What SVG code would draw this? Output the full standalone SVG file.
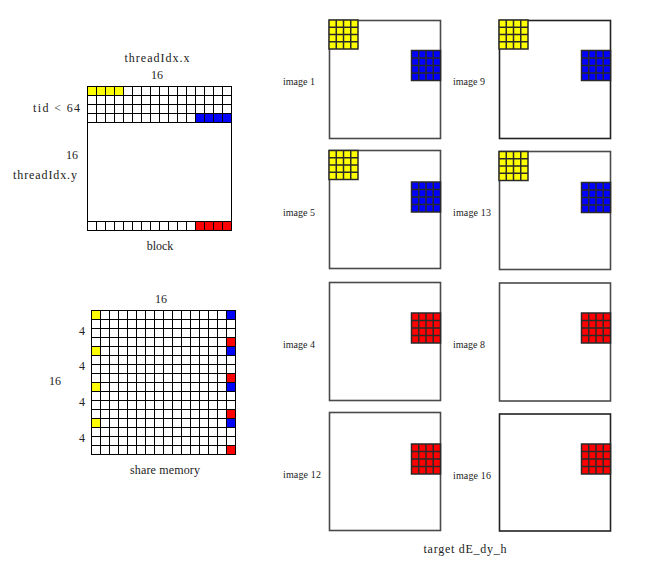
<svg xmlns="http://www.w3.org/2000/svg" xmlns:xlink="http://www.w3.org/1999/xlink" width="658" height="571" viewBox="0 0 658 571">
<style>
text{font-family:"Liberation Serif","DejaVu Serif",serif;fill:#222}
.lbl{font-size:12px}
.img{font-size:10px}
.grid{fill:none;stroke:#000;stroke-width:1}
.frame{fill:none;stroke:#4a4a4a;stroke-width:1.6}
.sg{fill:none;stroke:#2a2a2a;stroke-width:1.5}
.y{fill:#ffff00}.b{fill:#0000ff}.r{fill:#ff0000}
</style>
<defs>
<g id="sq29">
<rect x="0" y="0" width="29" height="29" stroke="#2a2a2a" stroke-width="1.5"/>
<path class="sg" d="M7.25 0V29M14.5 0V29M21.75 0V29M0 7.25H29M0 14.5H29M0 21.75H29"/>
</g>
<g id="sq30">
<rect x="0" y="0" width="29" height="30" stroke="#2a2a2a" stroke-width="1.5"/>
<path class="sg" d="M7.25 0V30M14.5 0V30M21.75 0V30M0 7.5H29M0 15H29M0 22.5H29"/>
</g>
</defs>

<g id="block">
<rect class="y" x="87.5" y="86.5" width="36" height="9"/>
<rect class="b" x="195.5" y="113.5" width="36" height="9"/>
<rect class="r" x="195.5" y="221.5" width="36" height="9"/>
<rect class="grid" x="87.5" y="86.5" width="144" height="144"/>
<path class="grid" d="M87.5 95.5H231.5M87.5 104.5H231.5M87.5 113.5H231.5M87.5 122.5H231.5M87.5 221.5H231.5
M96.5 86.5V122.5M105.5 86.5V122.5M114.5 86.5V122.5M123.5 86.5V122.5M132.5 86.5V122.5M141.5 86.5V122.5M150.5 86.5V122.5M159.5 86.5V122.5M168.5 86.5V122.5M177.5 86.5V122.5M186.5 86.5V122.5M195.5 86.5V122.5M204.5 86.5V122.5M213.5 86.5V122.5M222.5 86.5V122.5
M96.5 221.5V230.5M105.5 221.5V230.5M114.5 221.5V230.5M123.5 221.5V230.5M132.5 221.5V230.5M141.5 221.5V230.5M150.5 221.5V230.5M159.5 221.5V230.5M168.5 221.5V230.5M177.5 221.5V230.5M186.5 221.5V230.5M195.5 221.5V230.5M204.5 221.5V230.5M213.5 221.5V230.5M222.5 221.5V230.5"/>
<text class="lbl" x="157" y="62" text-anchor="middle" textLength="65">threadIdx.x</text>
<text class="lbl" x="157" y="79" text-anchor="middle">16</text>
<text class="lbl" x="33" y="112" textLength="47">tid &lt; 64</text>
<text class="lbl" x="72" y="159" text-anchor="middle">16</text>
<text class="lbl" x="13" y="179" textLength="64">threadIdx.y</text>
<text class="lbl" x="160" y="250" text-anchor="middle">block</text>
</g>

<g id="share-memory">
<rect class="y" x="91.5" y="310.5" width="9" height="9"/>
<rect class="y" x="91.5" y="346.5" width="9" height="9"/>
<rect class="y" x="91.5" y="382.5" width="9" height="9"/>
<rect class="y" x="91.5" y="418.5" width="9" height="9"/>
<rect class="b" x="226.5" y="310.5" width="9" height="9"/>
<rect class="b" x="226.5" y="346.5" width="9" height="9"/>
<rect class="b" x="226.5" y="382.5" width="9" height="9"/>
<rect class="b" x="226.5" y="418.5" width="9" height="9"/>
<rect class="r" x="226.5" y="337.5" width="9" height="9"/>
<rect class="r" x="226.5" y="373.5" width="9" height="9"/>
<rect class="r" x="226.5" y="409.5" width="9" height="9"/>
<rect class="r" x="226.5" y="445.5" width="9" height="9"/>
<rect class="grid" x="91.5" y="310.5" width="144" height="144"/>
<path class="grid" d="M100.5 310.5V454.5M109.5 310.5V454.5M118.5 310.5V454.5M127.5 310.5V454.5M136.5 310.5V454.5M145.5 310.5V454.5M154.5 310.5V454.5M163.5 310.5V454.5M172.5 310.5V454.5M181.5 310.5V454.5M190.5 310.5V454.5M199.5 310.5V454.5M208.5 310.5V454.5M217.5 310.5V454.5M226.5 310.5V454.5
M91.5 319.5H235.5M91.5 328.5H235.5M91.5 337.5H235.5M91.5 346.5H235.5M91.5 355.5H235.5M91.5 364.5H235.5M91.5 373.5H235.5M91.5 382.5H235.5M91.5 391.5H235.5M91.5 400.5H235.5M91.5 409.5H235.5M91.5 418.5H235.5M91.5 427.5H235.5M91.5 436.5H235.5M91.5 445.5H235.5"/>
<text class="lbl" x="161" y="303" text-anchor="middle">16</text>
<text class="lbl" x="82" y="335" text-anchor="middle">4</text>
<text class="lbl" x="82" y="370" text-anchor="middle">4</text>
<text class="lbl" x="55" y="385" text-anchor="middle">16</text>
<text class="lbl" x="82" y="406" text-anchor="middle">4</text>
<text class="lbl" x="82" y="442" text-anchor="middle">4</text>
<text class="lbl" x="165" y="474" text-anchor="middle" textLength="70">share memory</text>
</g>

<g id="image1">
<rect class="frame" x="329.5" y="20.5" width="111" height="118"/>
<use xlink:href="#sq29" href="#sq29" x="329" y="20" class="y"/>
<use xlink:href="#sq30" href="#sq30" x="411.5" y="50.5" class="b"/>
<text class="img" x="283" y="85" textLength="32">image 1</text>
</g>
<g id="image5">
<rect class="frame" x="329.5" y="150.5" width="111" height="118"/>
<use xlink:href="#sq29" href="#sq29" x="329" y="150.5" class="y"/>
<use xlink:href="#sq30" href="#sq30" x="411.5" y="182" class="b"/>
<text class="img" x="283" y="215.5" textLength="32">image 5</text>
</g>
<g id="image4">
<rect class="frame" x="329.5" y="282.5" width="111" height="118"/>
<use xlink:href="#sq30" href="#sq30" x="411.5" y="313" class="r"/>
<text class="img" x="283" y="347.5" textLength="32">image 4</text>
</g>
<g id="image12">
<rect class="frame" x="329.5" y="412.5" width="111" height="118"/>
<use xlink:href="#sq30" href="#sq30" x="411.5" y="444" class="r"/>
<text class="img" x="283" y="477.5" textLength="38">image 12</text>
</g>
<g id="image9">
<rect class="frame" x="499.5" y="20.5" width="111" height="118" style="stroke:#222"/>
<use xlink:href="#sq29" href="#sq29" x="499" y="20" class="y"/>
<use xlink:href="#sq30" href="#sq30" x="581.5" y="50.5" class="b"/>
<text class="img" x="453" y="85" textLength="32">image 9</text>
</g>
<g id="image13">
<rect class="frame" x="499.5" y="151.5" width="111" height="118"/>
<use xlink:href="#sq29" href="#sq29" x="499" y="151.5" class="y"/>
<use xlink:href="#sq30" href="#sq30" x="581.5" y="182.5" class="b"/>
<text class="img" x="453" y="216" textLength="38">image 13</text>
</g>
<g id="image8">
<rect class="frame" x="499.5" y="283" width="111" height="118"/>
<use xlink:href="#sq30" href="#sq30" x="581.5" y="313" class="r"/>
<text class="img" x="453" y="347.5" textLength="32">image 8</text>
</g>
<g id="image16">
<rect class="frame" x="499.5" y="414" width="111" height="117" style="stroke:#222"/>
<use xlink:href="#sq30" href="#sq30" x="581.5" y="444" class="r"/>
<text class="img" x="453" y="479" textLength="38">image 16</text>
</g>
<g id="connectors"/>
<text class="lbl" x="465" y="553" text-anchor="middle" textLength="83">target dE_dy_h</text>
</svg>
